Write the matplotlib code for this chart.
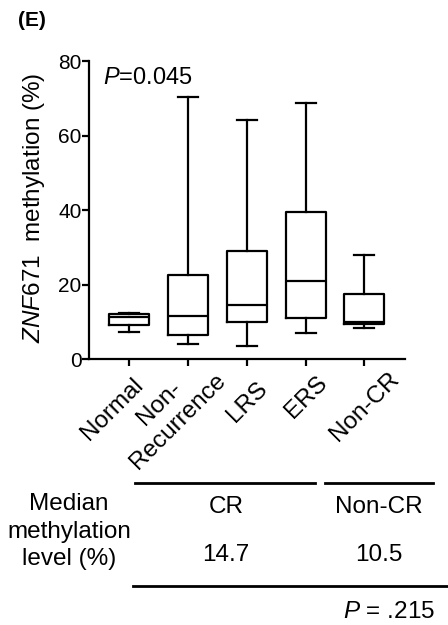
# ZNF671 methylation by patient group, with a small table of median levels below
import matplotlib.pyplot as plt
from matplotlib.lines import Line2D

plt.rcParams['font.family'] = ['Liberation Sans', 'DejaVu Sans']
plt.rcParams['mathtext.fontset'] = 'custom'
plt.rcParams['mathtext.it'] = 'Liberation Sans:italic'
plt.rcParams['mathtext.rm'] = 'Liberation Sans'

# Box summaries (%) read per group
groups = ['Normal', 'Non-\nRecurrence', 'LRS', 'ERS', 'Non-CR']
whislo = [7.3, 4.1, 3.6, 7.1, 8.3]
q1 = [9.2, 6.5, 10.0, 11.2, 9.4]
med = [11.3, 11.6, 14.6, 21.1, 10.1]
q3 = [12.3, 22.6, 29.0, 39.5, 17.5]
whishi = [12.4, 70.4, 64.2, 68.9, 27.9]

yticks = [0, 20, 40, 60, 80]
table_groups = ['CR', 'Non-CR']
table_medians = ['14.7', '10.5']

fs = 17.5

fig = plt.figure(figsize=(4.48, 6.25), dpi=100)
ax = fig.add_axes([0.1987, 0.425, 0.7053, 0.477])

stats = []
for i, name in enumerate(groups):
    stats.append(dict(label=name, whislo=whislo[i], q1=q1[i], med=med[i],
                      q3=q3[i], whishi=whishi[i], fliers=[]))

lw = 1.6
ax.bxp(stats, positions=range(1, 6), widths=0.68, capwidths=0.34,
       showfliers=False, patch_artist=False,
       boxprops=dict(color='black', linewidth=lw),
       medianprops=dict(color='black', linewidth=lw),
       whiskerprops=dict(color='black', linewidth=lw),
       capprops=dict(color='black', linewidth=lw))

ax.set_xlim(0.32, 5.69)
ax.set_ylim(0, 80)
ax.set_yticks(yticks)
ax.set_xticks(range(1, 6))
ax.set_xticklabels([])
for s in ['top', 'right']:
    ax.spines[s].set_visible(False)
for s in ['left', 'bottom']:
    ax.spines[s].set_linewidth(1.6)
ax.tick_params(axis='both', direction='out', length=5, width=1.6, labelsize=15)
ax.tick_params(axis='y', pad=0.5)

ax.set_ylabel(r'$\it{ZNF671}$  methylation (%)', fontsize=fs)
ax.yaxis.set_label_coords(-0.133, 0.51)
ax.text(0.043, 0.945, r'$\it{P}$=0.045', transform=ax.transAxes, fontsize=17,
        va='center', ha='left')

# rotated group labels, centred below each tick (offsets in pixels)
label_dx = [-16.5, -19, 1, 1, 0]
label_dy = [50, 53, 43, 38, 47]
for i, name in enumerate(groups):
    x_disp = ax.transData.transform((i + 1, 0))[0] + label_dx[i]
    x_fig = x_disp / fig.bbox.width
    y_fig = 1 - (359.3 + label_dy[i]) / 625
    fig.text(x_fig, y_fig, name, rotation=45, rotation_mode='anchor',
             ha='center', va='center', fontsize=fs, multialignment='center',
             linespacing=1.22)

fig.text(18 / 448, 1 - 20 / 625, '(E)', fontsize=15, fontweight='bold',
         ha='left', va='center')

# median table
W, H = 448.0, 625.0
def hline(x0, x1, y):
    fig.add_artist(Line2D([x0 / W, x1 / W], [1 - y / H, 1 - y / H],
                          color='black', linewidth=2))

hline(135, 315, 482.7)
hline(325, 433, 482.7)
hline(133, 448, 585.7)

fig.text(69 / W, 1 - 531.7 / H, 'Median\nmethylation\nlevel (%)', fontsize=fs,
         ha='center', va='center', multialignment='center', linespacing=1.33)
for xc, g, m in zip([226, 379], table_groups, table_medians):
    fig.text(xc / W, 1 - 507 / H, g, fontsize=fs, ha='center', va='center')
    fig.text(xc / W, 1 - 555 / H, m, fontsize=fs, ha='center', va='center')
fig.text(435 / W, 1 - 611.7 / H, r'$\it{P}$ = .215', fontsize=fs,
         ha='right', va='center')

plt.savefig('out.png', dpi=100)
